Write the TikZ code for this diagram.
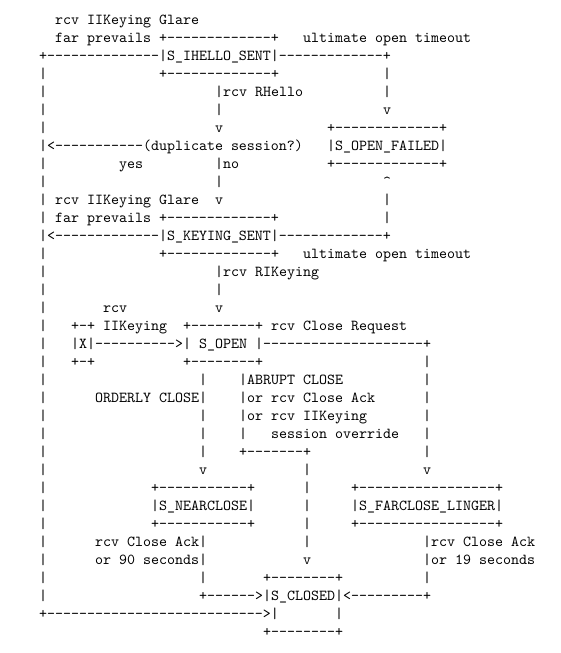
\documentclass[tikz,border=0pt]{standalone}
\usepackage{fontspec}
\newfontfamily\asc{lmmono10-regular}[Extension=.otf]
\frenchspacing
\tikzset{txt/.style={anchor=base west,inner sep=0pt,outer sep=0pt,text=black,
  font={\fontsize{15.238pt}{18pt}\asc}}}
\newcommand\T[3]{\node[txt] (t#2x#1) at ({39+8*#1},{19+18*#2+5.2}) {#3};}
\begin{document}
\begin{tikzpicture}[x=1pt,y=-1pt]
\fill[white] (0,0) rectangle (560,653);
\useasboundingbox (0,0) rectangle (560,653);
% row 0-1
\T{2}{0}{rcv IIKeying Glare}
\T{2}{1}{far prevails +-------------+}
\T{33}{1}{ultimate open timeout}
% row 2-9
\T{0}{2}{+--------------|S\_IHELLO\_SENT|-------------+}
\T{0}{3}{|}\T{15}{3}{+-------------+}\T{43}{3}{|}
\T{0}{4}{|}\T{22}{4}{|rcv RHello}\T{43}{4}{|}
\T{0}{5}{|}\T{22}{5}{|}\T{43}{5}{v}
\T{0}{6}{|}\T{22}{6}{v}\T{36}{6}{+-------------+}
\T{0}{7}{|<-----------(duplicate session?)}\T{36}{7}{|S\_OPEN\_FAILED|}
\T{0}{8}{|}\T{10}{8}{yes}\T{22}{8}{|no}\T{36}{8}{+-------------+}
\T{0}{9}{|}\T{22}{9}{|}\T{43}{9}{\textasciicircum}
% row 10-16
\T{0}{10}{|}\T{2}{10}{rcv IIKeying Glare}\T{22}{10}{v}\T{43}{10}{|}
\T{0}{11}{|}\T{2}{11}{far prevails +-------------+}\T{43}{11}{|}
\T{0}{12}{|<-------------|S\_KEYING\_SENT|-------------+}
\T{0}{13}{|}\T{15}{13}{+-------------+}\T{33}{13}{ultimate open timeout}
\T{0}{14}{|}\T{22}{14}{|rcv RIKeying}
\T{0}{15}{|}\T{22}{15}{|}
\T{0}{16}{|}\T{8}{16}{rcv}\T{22}{16}{v}
% row 17-19
\T{0}{17}{|}\T{4}{17}{+-+ IIKeying}\T{18}{17}{+--------+ rcv Close Request}
\T{0}{18}{|}\T{4}{18}{|X|---------->|}\T{20}{18}{S\_OPEN}\T{27}{18}{|--------------------+}
\T{0}{19}{|}\T{4}{19}{+-+}\T{18}{19}{+--------+}\T{48}{19}{|}
% row 20-25
\T{0}{20}{|}\T{20}{20}{|}\T{25}{20}{|ABRUPT CLOSE}\T{48}{20}{|}
\T{0}{21}{|}\T{7}{21}{ORDERLY CLOSE|}\T{25}{21}{|or rcv Close Ack}\T{48}{21}{|}
\T{0}{22}{|}\T{20}{22}{|}\T{25}{22}{|or rcv IIKeying}\T{48}{22}{|}
\T{0}{23}{|}\T{20}{23}{|}\T{25}{23}{|}\T{29}{23}{session override}\T{48}{23}{|}
\T{0}{24}{|}\T{20}{24}{|}\T{25}{24}{+-------+}\T{48}{24}{|}
\T{0}{25}{|}\T{20}{25}{v}\T{33}{25}{|}\T{48}{25}{v}
% row 26-30
\T{0}{26}{|}\T{14}{26}{+-----------+}\T{33}{26}{|}\T{39}{26}{+-----------------+}
\T{0}{27}{|}\T{14}{27}{|S\_NEARCLOSE|}\T{33}{27}{|}\T{39}{27}{|S\_FARCLOSE\_LINGER|}
\T{0}{28}{|}\T{14}{28}{+-----------+}\T{33}{28}{|}\T{39}{28}{+-----------------+}
\T{0}{29}{|}\T{7}{29}{rcv Close Ack|}\T{33}{29}{|}\T{48}{29}{|rcv Close Ack}
\T{0}{30}{|}\T{7}{30}{or 90 seconds|}\T{33}{30}{v}\T{48}{30}{|or 19 seconds}
% row 31-34
\T{0}{31}{|}\T{20}{31}{|}\T{28}{31}{+--------+}\T{48}{31}{|}
\T{0}{32}{|}\T{20}{32}{+------>|S\_CLOSED|<---------+}
\T{0}{33}{+--------------------------->|}\T{37}{33}{|}
\T{28}{34}{+--------+}
\end{tikzpicture}
\end{document}
